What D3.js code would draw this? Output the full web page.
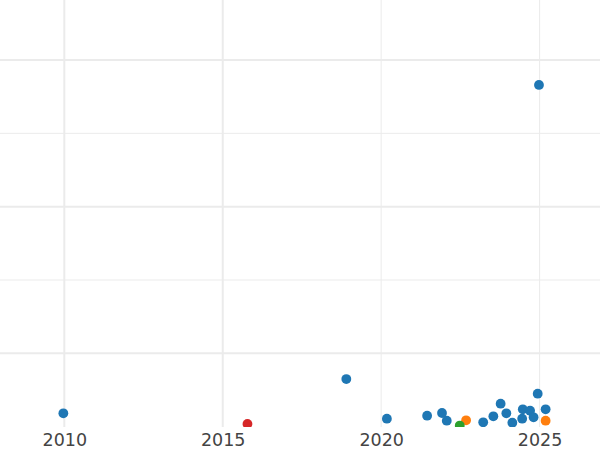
<!DOCTYPE html>
<html>
<head>
<meta charset="utf-8">
<script src="https://cdn.jsdelivr.net/npm/d3@7"></script>
<style>
  html, body { margin: 0; padding: 0; background: #fff; }
  svg { display: block; }
</style>
</head>
<body>
<div id="chart"></div>
<script>
// ---- data ----
const blueX = [2009.97, 2018.9, 2020.18, 2021.45, 2021.92, 2022.07, 2023.22, 2023.54, 2023.77, 2023.95, 2024.14, 2024.47, 2024.45, 2024.70, 2024.81, 2024.94, 2025.19, 2024.98];
const blueY = [18.3, 65, 10.9, 15, 18.7, 8.2, 6, 14.2, 31.4, 18.3, 5.5, 23.7, 10.9, 21.8, 12.8, 45, 23.7, 466];
const orangeX = [2022.68, 2025.19];
const orangeY = [8.7, 8.2];
const greenX = [2022.48];
const greenY = [1.6];
const redX = [2015.78];
const redY = [3.7];
const xTicks = [2010, 2015, 2020, 2025];
const yGrid = [100, 200, 300, 400, 500];

const series = [
  { color: "#1f77b4", xs: blueX, ys: blueY },
  { color: "#ff7f0e", xs: orangeX, ys: orangeY },
  { color: "#2ca02c", xs: greenX, ys: greenY },
  { color: "#d62728", xs: redX, ys: redY }
];

const W = 600, H = 450;
const plotBottom = 427;

const x = d3.scaleLinear().domain([2010, 2025]).range([64.3, 539.6]);
const y = d3.scaleLinear().domain([0, 500]).range([426.7, 60]);

const svg = d3.select("#chart").append("svg").attr("width", W).attr("height", H);

svg.append("defs").append("clipPath").attr("id", "plotclip")
  .append("rect").attr("x", 0).attr("y", 0).attr("width", W).attr("height", plotBottom);

const grid = svg.append("g").attr("clip-path", "url(#plotclip)");
grid.selectAll("line.v").data(xTicks).enter().append("line")
  .attr("class", "v")
  .attr("x1", d => x(d)).attr("x2", d => x(d))
  .attr("y1", 0).attr("y2", plotBottom)
  .attr("stroke", "#ebebeb")
  .attr("stroke-width", d => (d === 2010 || d === 2015) ? 2 : 1);
grid.selectAll("line.h").data(yGrid).enter().append("line")
  .attr("class", "h")
  .attr("x1", 0).attr("x2", W)
  .attr("y1", d => y(d)).attr("y2", d => y(d))
  .attr("stroke", "#ebebeb")
  .attr("stroke-width", d => (d % 200 === 100) ? 2 : 1);

const pts = svg.append("g").attr("clip-path", "url(#plotclip)");
series.forEach(s => {
  const data = s.xs.map((v, i) => [v, s.ys[i]]);
  pts.append("g").selectAll("circle").data(data).enter().append("circle")
    .attr("cx", d => x(d[0])).attr("cy", d => y(d[1]))
    .attr("r", 4.9).attr("fill", s.color);
});

// x axis labels
const xAxis = d3.axisBottom(x).tickValues(xTicks).tickFormat(d3.format("d")).tickSize(0).tickPadding(0);
const ax = svg.append("g").attr("transform", `translate(0,${plotBottom + 7})`).call(xAxis);
ax.select(".domain").remove();
ax.selectAll("text")
  .attr("font-family", "DejaVu Sans, sans-serif")
  .attr("font-size", 17.5)
  .attr("fill", "#444")
  .attr("dy", "0.71em");
</script>
</body>
</html>
